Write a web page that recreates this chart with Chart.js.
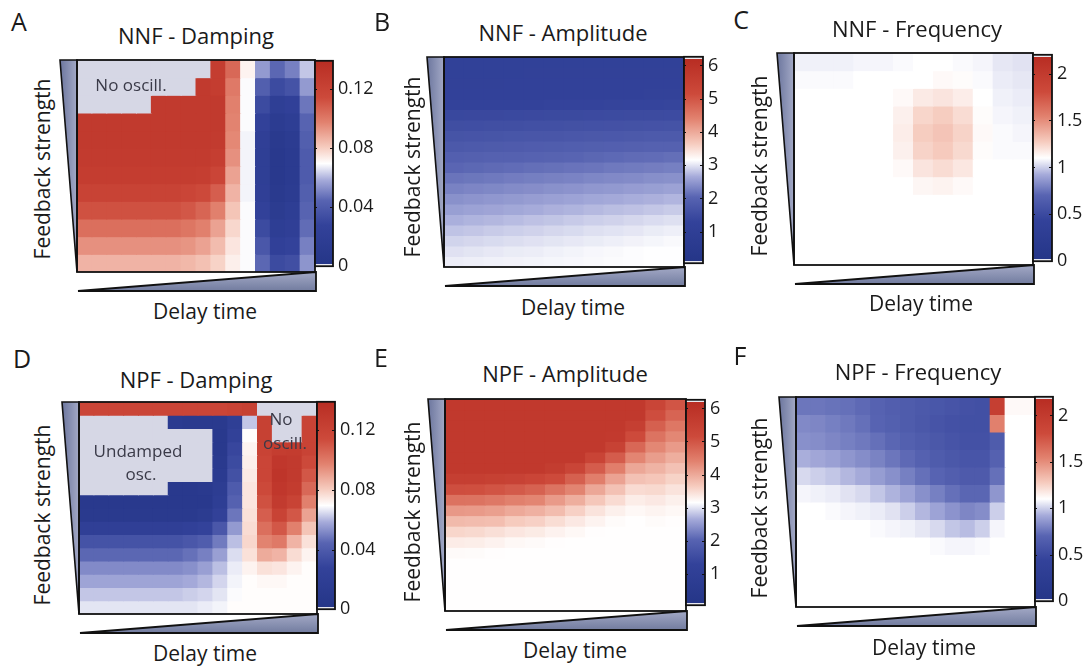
<!DOCTYPE html>
<html>
<head>
<meta charset="utf-8">
<script src="https://cdn.jsdelivr.net/npm/chart.js@4.4.0/dist/chart.umd.min.js"></script>
<style>
  html, body { margin: 0; padding: 0; background: #fff; }
  body { width: 1087px; height: 668px; position: relative; overflow: hidden;
         font-family: 'Open Sans', sans-serif; color: #1a1a1a; }
  .box { position: absolute; }
  .txt { position: absolute; transform: translate(-50%, -50%); white-space: nowrap; line-height: 1; }
  .rot { transform: translate(-50%, -50%) rotate(-90deg); }
  .note { color: #3a3a48; }
</style>
</head>
<body>
<script>
// ---- values ----
const panelLetters = ['A', 'B', 'C', 'D', 'E', 'F'];
const panelTitles = ['NNF - Damping', 'NNF - Amplitude', 'NNF - Frequency',
                     'NPF - Damping', 'NPF - Amplitude', 'NPF - Frequency'];
const xTitle = 'Delay time';
const yTitle = 'Feedback strength';

const dampingTicks = [0, 0.04, 0.08, 0.12];
const dampingTickLabels = ['0', '0.04', '0.08', '0.12'];
const amplitudeTicks = [1, 2, 3, 4, 5, 6];
const amplitudeTickLabels = ['1', '2', '3', '4', '5', '6'];
const frequencyTicks = [0, 0.5, 1, 1.5, 2];
const frequencyTickLabels = ['0', '0.5', '1', '1.5', '2'];

const dampingRange = [0, 0.139];
const amplitudeRange = [0.05, 6.26];
const frequencyRange = [0, 2.2];

// rows: strongest feedback (top) -> weakest, columns: short -> long delay
// null = "No oscill." / "Undamped osc." (grey)
const nnfDamping = [
  [null, null, null, null, null, null, null, null, null, 0.125, 0.105, 0.072, 0.055, 0.045, 0.05, 0.062],
  [null, null, null, null, null, null, null, null, 0.128, 0.125, 0.1, 0.069, 0.042, 0.032, 0.036, 0.055],
  [null, null, null, null, null, 0.128, 0.128, 0.128, 0.128, 0.128, 0.098, 0.069, 0.032, 0.02, 0.024, 0.048],
  [0.128, 0.128, 0.128, 0.128, 0.128, 0.128, 0.128, 0.128, 0.128, 0.128, 0.097, 0.069, 0.026, 0.014, 0.018, 0.044],
  [0.128, 0.128, 0.128, 0.128, 0.128, 0.128, 0.128, 0.128, 0.128, 0.127, 0.096, 0.068, 0.022, 0.01, 0.014, 0.042],
  [0.127, 0.127, 0.127, 0.127, 0.127, 0.127, 0.127, 0.127, 0.127, 0.124, 0.094, 0.068, 0.02, 0.008, 0.012, 0.04],
  [0.125, 0.125, 0.125, 0.125, 0.125, 0.125, 0.125, 0.125, 0.124, 0.118, 0.09, 0.068, 0.02, 0.008, 0.012, 0.04],
  [0.12, 0.12, 0.12, 0.12, 0.12, 0.12, 0.12, 0.118, 0.115, 0.108, 0.086, 0.068, 0.022, 0.01, 0.014, 0.042],
  [0.112, 0.112, 0.112, 0.112, 0.112, 0.112, 0.112, 0.11, 0.106, 0.098, 0.082, 0.069, 0.026, 0.013, 0.018, 0.044],
  [0.103, 0.103, 0.103, 0.103, 0.103, 0.103, 0.103, 0.101, 0.098, 0.09, 0.078, 0.069, 0.032, 0.018, 0.022, 0.046],
  [0.094, 0.094, 0.094, 0.094, 0.094, 0.094, 0.094, 0.093, 0.09, 0.084, 0.075, 0.069, 0.038, 0.024, 0.028, 0.05],
  [0.086, 0.086, 0.086, 0.086, 0.086, 0.086, 0.086, 0.085, 0.083, 0.079, 0.073, 0.069, 0.045, 0.032, 0.034, 0.054]
];

const nnfAmplitude = [
  [1.15, 1.15, 1.15, 1.15, 1.15, 1.15, 1.15, 1.15, 1.15, 1.15, 1.15, 1.15],
  [1.15, 1.15, 1.15, 1.15, 1.16, 1.16, 1.16, 1.16, 1.16, 1.17, 1.17, 1.17],
  [1.18, 1.18, 1.18, 1.19, 1.19, 1.19, 1.19, 1.19, 1.2, 1.2, 1.2, 1.2],
  [1.2, 1.2, 1.21, 1.21, 1.22, 1.22, 1.23, 1.23, 1.24, 1.24, 1.25, 1.25],
  [1.28, 1.29, 1.29, 1.3, 1.3, 1.31, 1.32, 1.32, 1.33, 1.34, 1.34, 1.35],
  [1.42, 1.43, 1.43, 1.44, 1.45, 1.46, 1.46, 1.47, 1.48, 1.49, 1.49, 1.5],
  [1.55, 1.56, 1.57, 1.58, 1.59, 1.6, 1.61, 1.62, 1.63, 1.64, 1.65, 1.66],
  [1.68, 1.69, 1.7, 1.72, 1.73, 1.74, 1.76, 1.77, 1.78, 1.8, 1.81, 1.82],
  [1.8, 1.82, 1.83, 1.85, 1.87, 1.88, 1.9, 1.92, 1.93, 1.95, 1.97, 1.98],
  [1.93, 1.95, 1.97, 1.98, 2.0, 2.02, 2.04, 2.06, 2.08, 2.1, 2.11, 2.13],
  [2.05, 2.07, 2.09, 2.11, 2.13, 2.15, 2.17, 2.19, 2.22, 2.24, 2.26, 2.28],
  [2.18, 2.2, 2.22, 2.25, 2.27, 2.29, 2.31, 2.34, 2.36, 2.38, 2.41, 2.43],
  [2.3, 2.33, 2.35, 2.38, 2.4, 2.43, 2.45, 2.48, 2.5, 2.53, 2.55, 2.58],
  [2.43, 2.46, 2.48, 2.51, 2.54, 2.56, 2.59, 2.62, 2.64, 2.67, 2.69, 2.72],
  [2.55, 2.58, 2.6, 2.63, 2.66, 2.69, 2.71, 2.74, 2.77, 2.79, 2.82, 2.85],
  [2.68, 2.71, 2.73, 2.76, 2.79, 2.81, 2.84, 2.87, 2.89, 2.92, 2.95, 2.97],
  [2.8, 2.82, 2.85, 2.87, 2.89, 2.92, 2.94, 2.97, 2.99, 3.01, 3.04, 3.06],
  [2.9, 2.92, 2.94, 2.96, 2.98, 3.0, 3.02, 3.04, 3.06, 3.08, 3.1, 3.12],
  [2.98, 3.0, 3.02, 3.04, 3.05, 3.07, 3.09, 3.11, 3.12, 3.14, 3.15, 3.15],
  [3.05, 3.06, 3.07, 3.08, 3.09, 3.1, 3.11, 3.12, 3.13, 3.14, 3.15, 3.15]
];

const nnfFrequency = [
  [1.07, 1.07, 1.07, 1.08, 1.08, 1.09, 1.1, 1.1, 1.09, 1.08, 1.05, 1.04],
  [1.09, 1.09, 1.09, 1.1, 1.1, 1.1, 1.1, 1.12, 1.11, 1.09, 1.06, 1.05],
  [1.1, 1.1, 1.1, 1.1, 1.1, 1.12, 1.17, 1.19, 1.16, 1.1, 1.07, 1.06],
  [1.1, 1.1, 1.1, 1.1, 1.1, 1.15, 1.24, 1.27, 1.22, 1.11, 1.08, 1.07],
  [1.1, 1.1, 1.1, 1.1, 1.1, 1.16, 1.27, 1.3, 1.25, 1.12, 1.09, 1.08],
  [1.1, 1.1, 1.1, 1.1, 1.1, 1.15, 1.25, 1.28, 1.23, 1.11, 1.09, 1.09],
  [1.1, 1.1, 1.1, 1.1, 1.1, 1.12, 1.19, 1.22, 1.18, 1.1, 1.1, 1.1],
  [1.1, 1.1, 1.1, 1.1, 1.1, 1.1, 1.13, 1.14, 1.12, 1.1, 1.1, 1.1],
  [1.1, 1.1, 1.1, 1.1, 1.1, 1.1, 1.1, 1.1, 1.1, 1.1, 1.1, 1.1],
  [1.1, 1.1, 1.1, 1.1, 1.1, 1.1, 1.1, 1.1, 1.1, 1.1, 1.1, 1.1],
  [1.1, 1.1, 1.1, 1.1, 1.1, 1.1, 1.1, 1.1, 1.1, 1.1, 1.1, 1.1],
  [1.1, 1.1, 1.1, 1.1, 1.1, 1.1, 1.1, 1.1, 1.1, 1.1, 1.1, 1.1]
];

const npfDamping = [
  [0.118, 0.118, 0.118, 0.118, 0.118, 0.118, 0.118, 0.118, 0.118, 0.118, 0.12, 0.122, null, null, null, null],
  [null, null, null, null, null, null, 0.012, 0.01, 0.01, 0.01, 0.02, 0.062, 0.122, null, null, 0.12],
  [null, null, null, null, null, null, null, null, null, 0.008, 0.025, 0.07, 0.122, null, null, 0.12],
  [null, null, null, null, null, null, null, null, null, 0.008, 0.03, 0.072, 0.12, 0.125, 0.126, 0.12],
  [null, null, null, null, null, null, null, null, null, 0.01, 0.032, 0.073, 0.118, 0.13, 0.128, 0.115],
  [null, null, null, null, null, null, null, null, null, 0.012, 0.035, 0.074, 0.118, 0.132, 0.128, 0.11],
  [null, null, null, null, null, null, 0.008, 0.008, 0.01, 0.016, 0.04, 0.075, 0.115, 0.13, 0.126, 0.105],
  [0.008, 0.008, 0.008, 0.008, 0.008, 0.008, 0.008, 0.008, 0.008, 0.018, 0.043, 0.075, 0.112, 0.127, 0.12, 0.098],
  [0.01, 0.01, 0.01, 0.01, 0.01, 0.01, 0.01, 0.01, 0.013, 0.025, 0.048, 0.076, 0.108, 0.12, 0.11, 0.09],
  [0.022, 0.022, 0.022, 0.022, 0.022, 0.022, 0.022, 0.024, 0.028, 0.038, 0.055, 0.077, 0.103, 0.11, 0.098, 0.082],
  [0.036, 0.036, 0.036, 0.036, 0.036, 0.036, 0.036, 0.038, 0.041, 0.049, 0.061, 0.078, 0.097, 0.1, 0.086, 0.076],
  [0.045, 0.045, 0.045, 0.045, 0.045, 0.045, 0.045, 0.047, 0.05, 0.056, 0.065, 0.076, 0.088, 0.086, 0.077, 0.072],
  [0.052, 0.052, 0.052, 0.052, 0.052, 0.052, 0.052, 0.053, 0.056, 0.061, 0.067, 0.072, 0.076, 0.075, 0.072, 0.07],
  [0.057, 0.057, 0.057, 0.057, 0.057, 0.057, 0.057, 0.058, 0.06, 0.064, 0.068, 0.07, 0.071, 0.071, 0.07, 0.07],
  [0.062, 0.062, 0.062, 0.062, 0.062, 0.062, 0.062, 0.063, 0.064, 0.066, 0.069, 0.07, 0.07, 0.07, 0.07, 0.07],
  [0.066, 0.066, 0.066, 0.066, 0.066, 0.066, 0.066, 0.066, 0.067, 0.068, 0.07, 0.07, 0.07, 0.07, 0.07, 0.07]
];

const npfAmplitude = [
  [5.8, 5.8, 5.8, 5.8, 5.8, 5.8, 5.8, 5.8, 5.8, 5.8, 5.35, 5.0],
  [5.8, 5.8, 5.8, 5.8, 5.8, 5.8, 5.8, 5.8, 5.8, 5.8, 5.1, 4.8],
  [5.8, 5.8, 5.8, 5.8, 5.8, 5.8, 5.8, 5.8, 5.8, 5.55, 4.85, 4.55],
  [5.8, 5.8, 5.8, 5.8, 5.8, 5.8, 5.8, 5.8, 5.75, 5.15, 4.6, 4.35],
  [5.8, 5.8, 5.8, 5.8, 5.8, 5.8, 5.8, 5.8, 5.45, 4.75, 4.35, 4.15],
  [5.8, 5.8, 5.8, 5.8, 5.8, 5.8, 5.8, 5.37, 4.9, 4.37, 4.12, 3.95],
  [5.8, 5.8, 5.8, 5.8, 5.8, 5.65, 5.35, 4.9, 4.45, 4.02, 3.9, 3.75],
  [5.55, 5.55, 5.5, 5.44, 5.32, 5.15, 4.85, 4.45, 4.07, 3.75, 3.7, 3.58],
  [5.09, 5.08, 5.01, 4.93, 4.82, 4.6, 4.38, 4.02, 3.75, 3.5, 3.52, 3.42],
  [4.61, 4.6, 4.53, 4.43, 4.37, 4.15, 3.95, 3.69, 3.5, 3.33, 3.37, 3.3],
  [4.17, 4.15, 4.1, 4.0, 3.93, 3.8, 3.6, 3.42, 3.3, 3.22, 3.26, 3.22],
  [3.83, 3.8, 3.78, 3.65, 3.6, 3.48, 3.37, 3.27, 3.19, 3.16, 3.19, 3.17],
  [3.55, 3.52, 3.46, 3.39, 3.35, 3.28, 3.22, 3.17, 3.16, 3.16, 3.16, 3.16],
  [3.34, 3.32, 3.28, 3.22, 3.2, 3.17, 3.16, 3.16, 3.16, 3.16, 3.16, 3.16],
  [3.2, 3.19, 3.17, 3.16, 3.16, 3.16, 3.16, 3.16, 3.16, 3.16, 3.16, 3.16],
  [3.16, 3.16, 3.16, 3.16, 3.16, 3.16, 3.16, 3.16, 3.16, 3.16, 3.16, 3.16],
  [3.16, 3.16, 3.16, 3.16, 3.16, 3.16, 3.16, 3.16, 3.16, 3.16, 3.16, 3.16],
  [3.16, 3.16, 3.16, 3.16, 3.16, 3.16, 3.16, 3.16, 3.16, 3.16, 3.16, 3.16],
  [3.16, 3.16, 3.16, 3.16, 3.16, 3.16, 3.16, 3.16, 3.16, 3.16, 3.16, 3.16],
  [3.16, 3.16, 3.16, 3.16, 3.16, 3.16, 3.16, 3.16, 3.16, 3.16, 3.16, 3.16]
];

const npfFrequency = [
  [0.76, 0.76, 0.75, 0.74, 0.72, 0.69, 0.66, 0.64, 0.62, 0.6, 0.58, 0.56, 0.55, 1.95, 1.12, 1.12],
  [0.82, 0.81, 0.79, 0.77, 0.74, 0.7, 0.67, 0.64, 0.61, 0.58, 0.56, 0.55, 0.55, 1.55, 1.1, 1.1],
  [0.84, 0.83, 0.81, 0.79, 0.77, 0.74, 0.71, 0.67, 0.64, 0.61, 0.58, 0.56, 0.56, 0.64, 1.1, 1.1],
  [0.93, 0.91, 0.89, 0.86, 0.83, 0.8, 0.76, 0.72, 0.68, 0.64, 0.61, 0.59, 0.59, 0.68, 1.1, 1.1],
  [1.02, 1.0, 0.98, 0.95, 0.92, 0.88, 0.84, 0.79, 0.74, 0.7, 0.66, 0.63, 0.63, 0.74, 1.1, 1.1],
  [1.08, 1.07, 1.06, 1.04, 1.02, 0.98, 0.94, 0.9, 0.84, 0.79, 0.74, 0.71, 0.71, 0.86, 1.1, 1.1],
  [1.1, 1.1, 1.09, 1.08, 1.07, 1.06, 1.04, 1.0, 0.95, 0.9, 0.85, 0.81, 0.83, 1.0, 1.1, 1.1],
  [1.1, 1.1, 1.1, 1.1, 1.1, 1.09, 1.08, 1.07, 1.05, 1.02, 0.98, 0.96, 1.0, 1.08, 1.1, 1.1],
  [1.1, 1.1, 1.1, 1.1, 1.1, 1.1, 1.1, 1.1, 1.1, 1.09, 1.08, 1.08, 1.09, 1.1, 1.1, 1.1],
  [1.1, 1.1, 1.1, 1.1, 1.1, 1.1, 1.1, 1.1, 1.1, 1.1, 1.1, 1.1, 1.1, 1.1, 1.1, 1.1],
  [1.1, 1.1, 1.1, 1.1, 1.1, 1.1, 1.1, 1.1, 1.1, 1.1, 1.1, 1.1, 1.1, 1.1, 1.1, 1.1],
  [1.1, 1.1, 1.1, 1.1, 1.1, 1.1, 1.1, 1.1, 1.1, 1.1, 1.1, 1.1, 1.1, 1.1, 1.1, 1.1]
];

// ---- styling ----
const cmap = [
  [0.00, [37, 54, 136]],
  [0.20, [51, 66, 154]],
  [0.32, [88, 100, 178]],
  [0.42, [166, 171, 218]],
  [0.50, [255, 255, 255]],
  [0.58, [246, 203, 190]],
  [0.70, [226, 130, 111]],
  [0.82, [205, 74, 59]],
  [1.00, [184, 45, 35]]
];
const greyCell = '#d6d7e5';
const stripColor = '#e9e9f0';

// layout of each panel: plot box and colour bar box [left, top, right, bottom]
const panels = [
  { grid: nnfDamping, range: dampingRange, ticks: dampingTicks, tickLabels: dampingTickLabels,
    plot: [77, 60, 315, 272], cb: [315, 59, 333, 268], strips: [true, false],
    letter: [19, 21], title: [196, 35], xl: [205, 311], yl: [42, 169] },
  { grid: nnfAmplitude, range: amplitudeRange, ticks: amplitudeTicks, tickLabels: amplitudeTickLabels,
    plot: [444, 57, 684, 267], cb: [684, 55, 703, 265], strips: [true, true],
    letter: [382, 21], title: [563, 32], xl: [573, 307], yl: [412, 167] },
  { grid: nnfFrequency, range: frequencyRange, ticks: frequencyTicks, tickLabels: frequencyTickLabels,
    plot: [794, 53, 1033, 265], cb: [1033, 53, 1052, 263], strips: [true, true],
    letter: [741, 19], title: [917, 28], xl: [921, 303], yl: [759, 166] },
  { grid: npfDamping, range: dampingRange, ticks: dampingTicks, tickLabels: dampingTickLabels,
    plot: [79, 402, 317, 614], cb: [317, 400, 335, 611], strips: [true, false],
    letter: [22, 358], title: [196, 379], xl: [205, 653], yl: [42, 515] },
  { grid: npfAmplitude, range: amplitudeRange, ticks: amplitudeTicks, tickLabels: amplitudeTickLabels,
    plot: [445, 399, 686, 611], cb: [686, 398, 705, 607], strips: [true, true],
    letter: [381, 357], title: [565, 373], xl: [575, 650], yl: [412, 512] },
  { grid: npfFrequency, range: frequencyRange, ticks: frequencyTicks, tickLabels: frequencyTickLabels,
    plot: [796, 397, 1035, 607], cb: [1035, 395, 1053, 603], strips: [true, true],
    letter: [740, 355], title: [918, 371], xl: [924, 647], yl: [759, 508] }
];

const notes = [
  { text: 'No oscill.', x: 131, y: 84 },
  { text: 'Undamped', x: 138, y: 450 },
  { text: 'osc.', x: 141, y: 473 },
  { text: 'No', x: 281, y: 418 },
  { text: 'oscill.', x: 285, y: 442 }
];

Chart.defaults.font.family = "'Open Sans', sans-serif";

const mixColor = t => {
  t = Math.max(0, Math.min(1, t));
  for (let i = 1; i < cmap.length; i++) {
    if (t <= cmap[i][0]) {
      const [t0, c0] = cmap[i - 1];
      const [t1, c1] = cmap[i];
      const f = (t - t0) / (t1 - t0);
      const c = c0.map((v, k) => Math.round(v + (c1[k] - v) * f));
      return `rgb(${c[0]},${c[1]},${c[2]})`;
    }
  }
  return 'rgb(184,45,35)';
};

const cellColor = (v, range) => {
  if (v === null) return greyCell;
  return mixColor((v - range[0]) / (range[1] - range[0]));
};

const addCanvas = (left, top, width, height) => {
  const div = document.createElement('div');
  div.className = 'box';
  Object.assign(div.style, { left: left + 'px', top: top + 'px', width: width + 'px', height: height + 'px' });
  const cv = document.createElement('canvas');
  cv.width = width;
  cv.height = height;
  div.appendChild(cv);
  document.body.appendChild(div);
  return cv;
};

const addText = (text, x, y, size, cls) => {
  const d = document.createElement('div');
  d.className = 'txt ' + (cls || '');
  d.textContent = text;
  Object.assign(d.style, { left: x + 'px', top: y + 'px', fontSize: size + 'px' });
  document.body.appendChild(d);
};

// frame round the plot, plus the two wedges standing for the axes
const framePlugin = {
  id: 'frame',
  afterDraw(chart, args, opts) {
    const { ctx, chartArea: a } = chart;
    ctx.save();
    ctx.strokeStyle = '#111';
    ctx.lineJoin = 'miter';
    if (opts.wedges) {
      let g = ctx.createLinearGradient(a.left - 17, 0, a.left, 0);
      g.addColorStop(0, '#6c769e');
      g.addColorStop(1, '#a3a9c6');
      ctx.beginPath();
      ctx.moveTo(a.left - 17, a.top);
      ctx.lineTo(a.left, a.top);
      ctx.lineTo(a.left, a.bottom);
      ctx.closePath();
      ctx.fillStyle = g;
      ctx.fill();
      ctx.lineWidth = 1.6;
      ctx.stroke();

      g = ctx.createLinearGradient(0, a.bottom, 0, a.bottom + 19);
      g.addColorStop(0, '#a3a9c6');
      g.addColorStop(1, '#727c9f');
      ctx.beginPath();
      ctx.moveTo(a.left + 1, a.bottom + 19);
      ctx.lineTo(a.right + 1, a.bottom + 19);
      ctx.lineTo(a.right + 1, a.bottom);
      ctx.closePath();
      ctx.fillStyle = g;
      ctx.fill();
      ctx.lineWidth = 1.8;
      ctx.stroke();
    }
    if (opts.notches) {
      const y = chart.scales.y;
      ctx.lineWidth = 1;
      y.ticks.forEach(t => {
        const py = Math.round(y.getPixelForValue(t.value)) + 0.5;
        ctx.beginPath();
        ctx.moveTo(a.right - 3, py); ctx.lineTo(a.right, py);
        ctx.moveTo(a.left, py); ctx.lineTo(a.left + 2, py);
        ctx.stroke();
      });
    }
    ctx.lineWidth = 1.8;
    ctx.strokeRect(a.left, a.top, a.width, a.height);
    ctx.restore();
  }
};

const drawHeatmap = p => {
  const grid = p.grid;
  const rows = grid.length;
  const [l, t, r, b] = p.plot;
  const pad = { left: 20, top: 4, right: 4, bottom: 23 };
  const cv = addCanvas(l - pad.left, t - pad.top, r - l + pad.left + pad.right, b - t + pad.top + pad.bottom);
  const labels = grid[0].map((_, c) => String(c + 1));
  const datasets = grid.map((row, i) => {
    const y0 = rows - 1 - i;
    return {
      data: row.map((v, c) => ({ x: labels[c], y: [y0, y0 + 1], v: v })),
      backgroundColor: ctx => (ctx.raw ? cellColor(ctx.raw.v, p.range) : greyCell)
    };
  });
  new Chart(cv, {
    type: 'bar',
    data: { labels, datasets },
    options: {
      responsive: false,
      animation: false,
      events: [],
      layout: { padding: pad },
      plugins: { legend: { display: false }, tooltip: { enabled: false }, frame: { wedges: true } },
      datasets: { bar: { grouped: false, barPercentage: 1, categoryPercentage: 1, borderWidth: 0, inflateAmount: 0.5 } },
      scales: {
        x: { display: false },
        y: { display: false, min: 0, max: rows }
      }
    },
    plugins: [framePlugin]
  });
};

const drawColorbar = p => {
  const [l, t, r, b] = p.cb;
  const padV = 14, padL = 2, axisW = 50;
  const cv = addCanvas(l - padL, t - padV, r - l + padL + axisW, b - t + 2 * padV);
  const range = p.range;
  new Chart(cv, {
    type: 'bar',
    data: {
      labels: [''],
      datasets: [{
        data: [range],
        backgroundColor: c => {
          const ch = c.chart;
          if (!ch.chartArea) return '#fff';
          const y = ch.scales.y;
          const y0 = y.getPixelForValue(range[0]);
          const y1 = y.getPixelForValue(range[1]);
          const g = ch.ctx.createLinearGradient(0, y0, 0, y1);
          const e = 2.5 / Math.abs(y0 - y1);
          cmap.forEach(([s, col]) => {
            const ss = p.strips[0] && s === 0 ? e : (p.strips[1] && s === 1 ? 1 - e : s);
            g.addColorStop(ss, `rgb(${col[0]},${col[1]},${col[2]})`);
          });
          if (p.strips[0]) { g.addColorStop(0, stripColor); g.addColorStop(e * 0.8, stripColor); }
          if (p.strips[1]) { g.addColorStop(1 - e * 0.8, stripColor); g.addColorStop(1, stripColor); }
          return g;
        }
      }]
    },
    options: {
      responsive: false,
      animation: false,
      events: [],
      layout: { padding: { top: padV, bottom: padV, left: padL, right: 0 } },
      plugins: { legend: { display: false }, tooltip: { enabled: false }, frame: { notches: true } },
      datasets: { bar: { barPercentage: 1, categoryPercentage: 1, borderWidth: 0 } },
      scales: {
        x: { display: false },
        y: {
          position: 'right',
          min: range[0],
          max: range[1],
          afterBuildTicks: s => { s.ticks = p.ticks.map(v => ({ value: v })); },
          afterFit: s => { s.width = axisW; },
          grid: { display: false, drawTicks: false },
          border: { display: false },
          ticks: {
            padding: 5,
            color: '#1a1a1a',
            font: { size: 18 },
            callback: (v, i) => p.tickLabels[i]
          }
        }
      }
    },
    plugins: [framePlugin]
  });
};

panels.forEach(p => { drawHeatmap(p); drawColorbar(p); });

panels.forEach((p, i) => {
  addText(panelLetters[i], p.letter[0], p.letter[1], 25);
  addText(panelTitles[i], p.title[0], p.title[1], 22);
  addText(xTitle, p.xl[0], p.xl[1], 21);
  addText(yTitle, p.yl[0], p.yl[1], 21, 'rot');
});
notes.forEach(n => addText(n.text, n.x, n.y, 17, 'note'));
</script>
</body>
</html>
